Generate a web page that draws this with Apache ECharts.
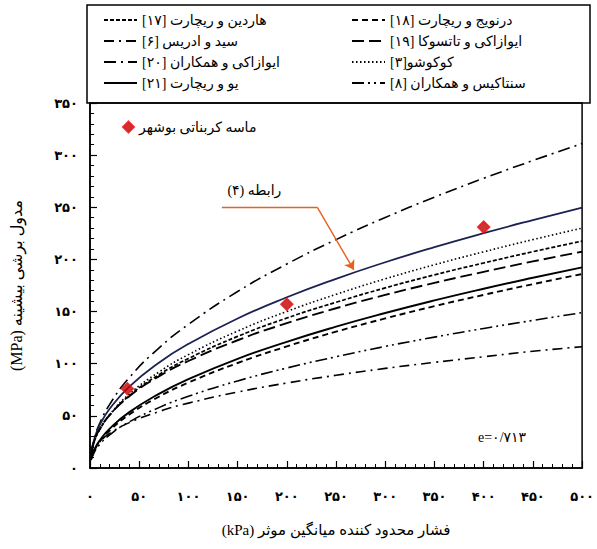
<!DOCTYPE html>
<html>
<head>
<meta charset="utf-8">
<script src="https://cdn.jsdelivr.net/npm/echarts@6/dist/echarts.min.js"></script>
<style>
html,body{margin:0;padding:0;background:#fff;}
#chart{width:597px;height:549px;}
</style>
</head>
<body>
<div id="chart"></div>
<script>
// ---- data ----
const pressures = [1, 5, 10, 20, 40, 70, 100, 150, 200, 250, 300, 350, 400, 450, 500];
const iwasakiEtAl = [13.4, 30.2, 43.0, 61.0, 86.7, 115.0, 137.7, 169.2, 195.6, 219.0, 240.2, 259.7, 277.8, 294.8, 311.1];
const relation4   = [14.3, 30.0, 41.3, 56.8, 78.1, 101.0, 119.0, 143.4, 163.7, 181.4, 197.3, 211.8, 225.2, 237.7, 249.6];
const kokusho     = [12.7, 26.9, 37.2, 51.3, 70.9, 92.0, 108.7, 131.3, 150.1, 166.5, 181.4, 194.9, 207.3, 219.0, 230.0];
const hardin      = [13.1, 27.1, 37.1, 50.8, 69.4, 89.4, 105.0, 126.2, 143.8, 158.9, 172.7, 185.2, 196.6, 207.4, 217.6];
const iwasakiTat  = [13.7, 27.7, 37.5, 50.8, 68.8, 87.8, 102.6, 122.5, 138.9, 153.2, 166.0, 177.5, 188.1, 198.1, 207.4];
const yuRichart   = [8.3, 18.7, 26.6, 37.8, 53.6, 71.1, 85.2, 104.7, 121.0, 135.5, 148.6, 160.7, 171.9, 182.4, 192.4];
const drnevich    = [7.8, 17.8, 25.3, 36.0, 51.3, 68.3, 81.9, 100.7, 116.6, 130.7, 143.4, 155.2, 166.0, 176.3, 186.0];
const stokoe      = [7.5, 16.3, 22.8, 31.8, 44.3, 57.9, 68.8, 83.5, 95.9, 106.7, 116.6, 125.5, 133.8, 141.5, 149.0];
const seedIdriss  = [10.3, 19.3, 25.3, 33.2, 43.5, 54.1, 62.2, 72.8, 81.5, 88.9, 95.5, 101.3, 106.7, 111.9, 116.3];
const sandX = [38, 200, 400];
const sandY = [76, 157, 231];
const xTicks = [0, 50, 100, 150, 200, 250, 300, 350, 400, 450, 500];
const yTicks = [0, 50, 100, 150, 200, 250, 300, 350];

const names = {
  hardin: '[۱۷] هاردین و ریچارت',
  seed: '[۶] سید و ادریس',
  iwEt: '[۲۰] ایوازاکی و همکاران',
  yu: '[۲۱] یو و ریچارت',
  drn: '[۱۸] درنویج و ریچارت',
  iwTat: '[۱۹] ایوازاکی و تاتسوکا',
  kok: '[۳]کوکوشو',
  stok: '[۸] سنتاکیس و همکاران',
  sand: 'ماسه کربناتی بوشهر',
  rel: 'رابطه (۴)'
};

const FONT = "'Liberation Serif', 'DejaVu Sans', serif";
const fa = v => String(v).replace(/\d/g, d => '۰۱۲۳۴۵۶۷۸۹'[d]);
const pairs = ys => pressures.map((p, i) => [p, ys[i]]);

function lineSeries(name, ys, dash, width, color) {
  return {
    name: name, type: 'line', data: pairs(ys), smooth: true, symbol: 'none',
    lineStyle: { color: color || '#000', width: width, type: dash },
    itemStyle: { color: color || '#000' },
    silent: true, z: 3
  };
}

const chart = echarts.init(document.getElementById('chart'), null, { renderer: 'svg' });

const relSeries = lineSeries(names.rel, relation4, 'solid', 1.8, '#1b2252');
relSeries.markLine = {
  silent: true, symbolSize: 9,
  lineStyle: { color: '#e8601c', width: 1.4, type: 'solid' },
  label: { show: false },
  data: [
    [{ coord: [134, 250], symbol: 'none' }, { coord: [231, 250], symbol: 'none' }],
    [{ coord: [231, 250], symbol: 'none' }, { coord: [268, 190], symbol: 'arrow' }]
  ]
};
relSeries.markPoint = {
  silent: true, symbol: 'circle', symbolSize: 0,
  data: [{ coord: [167, 266] }],
  label: { show: true, position: 'inside', formatter: '(۴) رابطه', color: '#000', fontSize: 14, fontFamily: FONT }
};

const legendCommon = {
  orient: 'vertical', top: 8, itemGap: 7, itemWidth: 33, itemHeight: 14,
  selectedMode: false,
  itemStyle: { opacity: 0, borderWidth: 0 },
  textStyle: { fontSize: 14, fontFamily: FONT, color: '#000' }
};

const option = {
  animation: false,
  backgroundColor: '#fff',
  grid: { left: 90, right: 12, top: 103, bottom: 81, show: true, borderColor: '#000', borderWidth: 1.5, backgroundColor: 'transparent' },
  xAxis: {
    type: 'value', min: xTicks[0], max: xTicks[xTicks.length - 1], interval: 50,
    name: '(kPa) فشار محدود کننده میانگین موثر', nameLocation: 'middle', nameGap: 54,
    nameTextStyle: { fontSize: 15, fontFamily: FONT, color: '#000' },
    axisLine: { show: true, lineStyle: { color: '#000', width: 1.5 } },
    axisTick: { show: true, inside: true, length: 7, lineStyle: { color: '#000', width: 1.2 } },
    minorTick: { show: true, splitNumber: 5, length: 4, lineStyle: { color: '#000', width: 1 } },
    splitLine: { show: false },
    axisLabel: { margin: 22, fontSize: 13, fontWeight: 'bold', color: '#000', fontFamily: FONT, formatter: v => fa(v) }
  },
  yAxis: {
    type: 'value', min: yTicks[0], max: yTicks[yTicks.length - 1], interval: 50,
    name: '(MPa) مدول برشی بیشینه', nameLocation: 'middle', nameGap: 66,
    nameTextStyle: { fontSize: 16, fontFamily: FONT, color: '#000' },
    axisLine: { show: true, lineStyle: { color: '#000', width: 1.5 } },
    axisTick: { show: true, inside: true, length: 7, lineStyle: { color: '#000', width: 1.2 } },
    minorTick: { show: true, splitNumber: 5, length: 4, lineStyle: { color: '#000', width: 1 } },
    splitLine: { show: false },
    axisLabel: { margin: 12, fontSize: 13, fontWeight: 'bold', color: '#000', fontFamily: FONT, formatter: v => fa(v) }
  },
  legend: [
    Object.assign({}, legendCommon, { data: [names.hardin, names.seed, names.iwEt, names.yu], left: 98 }),
    Object.assign({}, legendCommon, { data: [names.drn, names.iwTat, names.kok, names.stok], left: 346 }),
    {
      data: [{ name: names.sand, icon: 'diamond' }],
      left: 117, top: 115, itemWidth: 11, itemHeight: 11,
      selectedMode: false, textStyle: { fontSize: 14, fontFamily: FONT, color: '#000' }
    }
  ],
  graphic: [
    { type: 'rect', shape: { x: 87, y: 5, width: 503, height: 98 }, style: { fill: 'none', stroke: '#000', lineWidth: 1.5 }, silent: true },
    { type: 'text', left: 478, top: 430, style: { text: 'e=۰/۷۱۳', font: "14px 'Liberation Serif', 'DejaVu Sans', serif", fill: '#000' }, silent: true }
  ],
  series: [
    lineSeries(names.iwEt, iwasakiEtAl, [12, 5, 2, 5], 1.6),
    relSeries,
    lineSeries(names.kok, kokusho, [1.5, 2.5], 1.6),
    lineSeries(names.hardin, hardin, [4, 2], 1.7),
    lineSeries(names.iwTat, iwasakiTat, [12, 5], 1.9),
    lineSeries(names.yu, yuRichart, 'solid', 1.9),
    lineSeries(names.drn, drnevich, [6, 4], 1.9),
    lineSeries(names.stok, stokoe, [12, 4, 2, 4, 2, 4], 1.6),
    lineSeries(names.seed, seedIdriss, [10, 5, 2, 5], 1.6),
    {
      name: names.sand, type: 'scatter', symbol: 'diamond', symbolSize: 12,
      data: sandX.map((x, i) => [x, sandY[i]]),
      itemStyle: { color: '#c00000', borderColor: '#ee1111', borderWidth: 1.5 },
      z: 5, silent: true
    }
  ]
};
chart.setOption(option);
</script>
</body>
</html>
